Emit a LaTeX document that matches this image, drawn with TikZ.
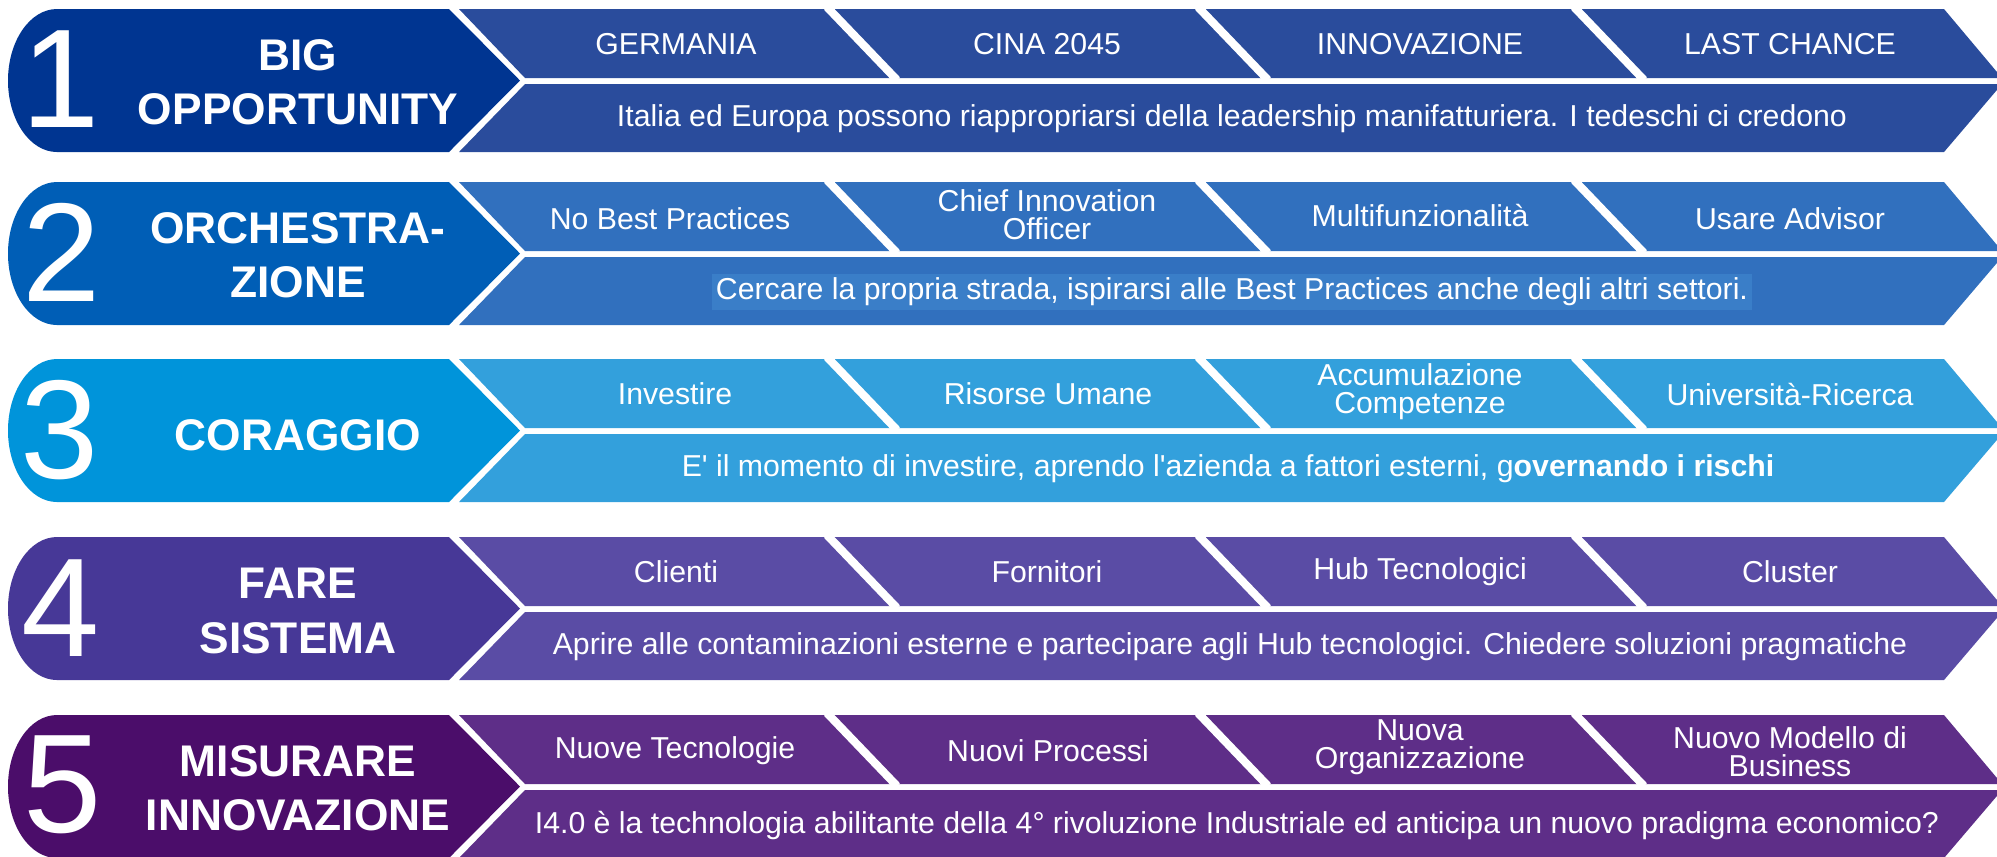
\documentclass[tikz,border=0pt]{standalone}
\usepackage{fontspec}
\setmainfont{Liberation Sans}

% Colours of the five rows
\definecolor{labA}{HTML}{003591}
\definecolor{bandA}{HTML}{2A4C9C}
\definecolor{labB}{HTML}{005EB6}
\definecolor{bandB}{HTML}{3170BE}
\definecolor{hiB}{HTML}{3A7EC8}
\definecolor{labC}{HTML}{0094DA}
\definecolor{bandC}{HTML}{33A0DC}
\definecolor{labD}{HTML}{473897}
\definecolor{bandD}{HTML}{5A4CA5}
\definecolor{labE}{HTML}{4B0D6A}
\definecolor{bandE}{HTML}{5E2E88}

\tikzset{
  numtxt/.style={text=white, inner sep=0pt, font=\fontsize{40}{40}\selectfont},
  headtxt/.style={text=white, align=center, font=\fontsize{12.6}{15.4}\selectfont\bfseries},
  boxtxt/.style={text=white, align=center, inner sep=1pt, font=\fontsize{8.6}{8}\selectfont},
  slit/.style={white, line width=2.3pt}
}

% One row: label with round end, two bands, cuts in the upper band
\newcommand{\stripe}[2]{%
  \fill[#1] (57,0) -- (449,0) -- (520,71.5) -- (449,143) -- (57,143)
    arc[start angle=90, end angle=270, x radius=49, y radius=71.5] -- cycle;
  \fill[#2] (459,0) -- (1944,0) -- (2002,69) -- (525,69) -- cycle;
  \fill[#2] (525,75) -- (2002,75) -- (1944,143) -- (459,143) -- cycle;
  \foreach \x in {827,1198,1574}
    \draw[slit] (\x,-2) -- ++(70,73);
}

\begin{document}
\begin{tikzpicture}[x=0.01cm, y=-0.01cm]

\useasboundingbox (0,0) rectangle (1997,856);

% Row 1
\begin{scope}[shift={(0,9)}]
\stripe{labA}{bandA}
\node[numtxt] (one) at (61,70) {1};
\node[headtxt] (big) at (298,73) {BIG\\OPPORTUNITY};
\node[boxtxt] (germania) at (676,35) {GERMANIA};
\node[boxtxt] (cina) at (1047,35) {CINA 2045};
\node[boxtxt] (innov) at (1420,35) {INNOVAZIONE};
\node[boxtxt] (last) at (1790,35) {LAST CHANCE};
\node[boxtxt] (italia) at (1232,110) {Italia ed Europa possono riappropriarsi della leadership manifatturiera. I tedeschi ci credono};
\end{scope}

% Row 2
\begin{scope}[shift={(0,182)}]
\stripe{labB}{bandB}
\node[numtxt] (two) at (62,70) {2};
\node[headtxt] (orch) at (298,73) {ORCHESTRA-\\ZIONE};
\node[boxtxt] (nobest) at (670,37) {No Best Practices};
\node[boxtxt] (chief) at (1047,33) {Chief Innovation\\Officer};
\node[boxtxt] (multi) at (1420,33) {Multifunzionalità};
\node[boxtxt] (advisor) at (1790,37) {Usare Advisor};
\node[boxtxt, fill=hiB] (cercare) at (1232,110) {Cercare la propria strada, ispirarsi alle Best Practices anche degli altri settori.};
\end{scope}

% Row 3
\begin{scope}[shift={(0,359)}]
\stripe{labC}{bandC}
\node[numtxt] (three) at (60,71) {3};
\node[headtxt] (coraggio) at (298,76) {CORAGGIO};
\node[boxtxt] (investire) at (675,35) {Investire};
\node[boxtxt] (risorse) at (1048,35) {Risorse Umane};
\node[boxtxt] (accum) at (1420,33) {Accumulazione\\Competenze};
\node[boxtxt] (univ) at (1790,35) {Università-Ricerca};
\node[boxtxt] (momento) at (1228,110) {E\textquotesingle{} il momento di investire, aprendo l\textquotesingle azienda a fattori esterni, g\textbf{overnando i rischi}};
\end{scope}

% Row 4
\begin{scope}[shift={(0,537)}]
\stripe{labD}{bandD}
\node[numtxt] (four) at (61,71) {4};
\node[headtxt] (fare) at (298,74) {FARE\\SISTEMA};
\node[boxtxt] (clienti) at (676,35) {Clienti};
\node[boxtxt] (fornitori) at (1047,35) {Fornitori};
\node[boxtxt] (hub) at (1420,35) {Hub Tecnologici};
\node[boxtxt] (cluster) at (1790,35) {Cluster};
\node[boxtxt] (aprire) at (1230,110) {Aprire alle contaminazioni esterne e partecipare agli Hub tecnologici. Chiedere soluzioni pragmatiche};
\end{scope}

% Row 5
\begin{scope}[shift={(0,715)}]
\stripe{labE}{bandE}
\node[numtxt] (five) at (63,70) {5};
\node[headtxt] (misurare) at (298,73) {MISURARE\\INNOVAZIONE};
\node[boxtxt] (tecno) at (675,36) {Nuove Tecnologie};
\node[boxtxt] (processi) at (1048,36) {Nuovi Processi};
\node[boxtxt] (organ) at (1420,32) {Nuova\\Organizzazione};
\node[boxtxt] (modello) at (1790,37) {Nuovo Modello di\\Business};
\node[boxtxt] (quattro) at (1237,110) {I4.0 è la technologia abilitante della 4° rivoluzione Industriale ed anticipa un nuovo pradigma economico?};
\end{scope}

\end{tikzpicture}
\end{document}
